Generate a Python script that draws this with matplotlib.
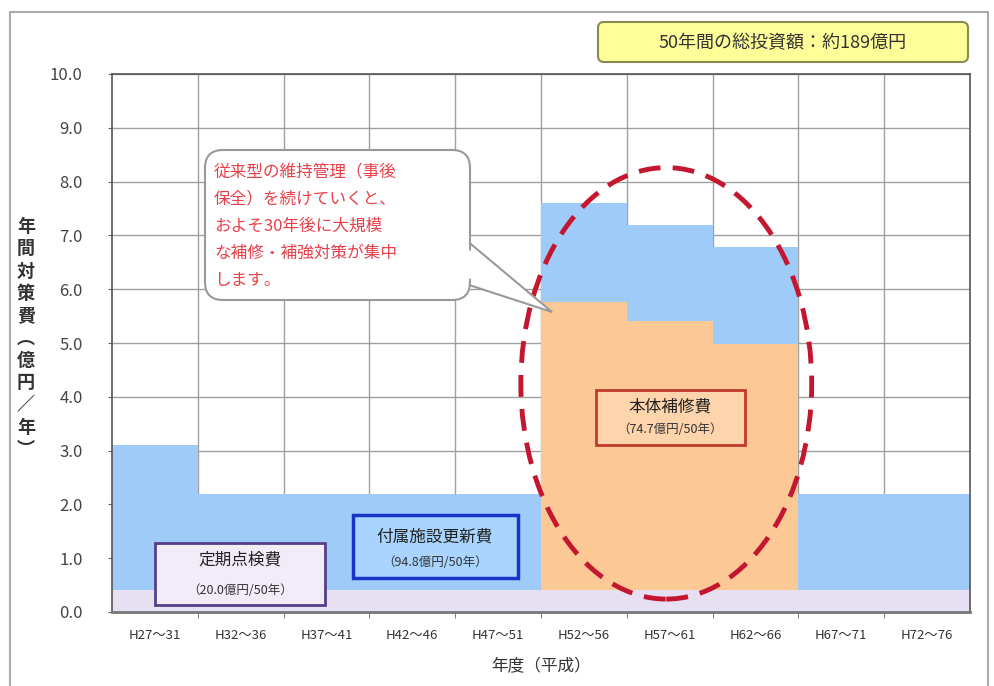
"""Annual maintenance cost chart (50-year outlook)."""

import matplotlib
matplotlib.use("Agg")
import matplotlib.pyplot as plt
from matplotlib.patches import FancyBboxPatch, Ellipse, Polygon, Rectangle
from matplotlib.transforms import IdentityTransform
import numpy as np

plt.rcParams['font.family'] = ['Noto Sans CJK JP', 'DejaVu Sans']

W, H, DPI = 995, 686, 100

categories = ["H27～31", "H32～36", "H37～41", "H42～46", "H47～51",
              "H52～56", "H57～61", "H62～66", "H67～71", "H72～76"]
# 億円/年
inspection = [0.4, 0.4, 0.4, 0.4, 0.4, 0.4, 0.4, 0.4, 0.4, 0.4]
repair = [0.0, 0.0, 0.0, 0.0, 0.0, 5.36, 5.0, 4.58, 0.0, 0.0]
facility = [2.7, 1.8, 1.8, 1.8, 1.8, 1.85, 1.8, 1.8, 1.8, 1.8]
y_ticks = [0, 1, 2, 3, 4, 5, 6, 7, 8, 9, 10]

C_INSPECT = "#e6e0f2"
C_REPAIR = "#fcc896"
C_FACILITY = "#9ecbf8"


def px(x, y):
    """Pixel position (from top-left) to figure fraction."""
    return x / W, 1 - y / H


def rounded_box(fig, x0, y0, x1, y1, face, edge, lw=1.5, r=8):
    box = FancyBboxPatch((x0, H - y1), x1 - x0, y1 - y0,
                         boxstyle="round,pad=0,rounding_size=%d" % r,
                         transform=IdentityTransform(), facecolor=face,
                         edgecolor=edge, linewidth=lw, zorder=5)
    fig.patches.append(box)


def plain_box(fig, x0, y0, x1, y1, face, edge, lw=2.0):
    box = Rectangle((x0, H - y1), x1 - x0, y1 - y0, transform=IdentityTransform(),
                    facecolor=face, edgecolor=edge, linewidth=lw, zorder=5)
    fig.patches.append(box)


fig = plt.figure(figsize=(W / DPI, H / DPI), dpi=DPI)
fig.patch.set_facecolor("white")
ax = fig.add_axes([112 / W, 1 - 612 / H, 858 / W, 538 / H])

x = np.arange(len(categories))
bottom2 = np.array(inspection) + np.array(repair)
ax.bar(x, inspection, width=1.0, color=C_INSPECT, zorder=2)
ax.bar(x, repair, width=1.0, bottom=inspection, color=C_REPAIR, zorder=2)
ax.bar(x, facility, width=1.0, bottom=bottom2, color=C_FACILITY, zorder=2)

ax.set_xlim(-0.5, len(categories) - 0.5)
ax.set_ylim(0, 10)
ax.set_yticks(y_ticks)
ax.set_yticklabels(["%.1f" % v for v in y_ticks], fontsize=12, color="#444444")
ax.set_xticks(x)
ax.set_xticklabels(categories, fontsize=9.5, color="#333333")
ax.set_xticks(np.arange(0.5, len(categories) - 0.5), minor=True)
ax.tick_params(axis="x", which="major", length=0, pad=12)
ax.tick_params(axis="x", which="minor", length=4, color="#666666")
ax.tick_params(axis="y", length=3, color="#666666", pad=18)
ax.grid(axis="y", which="major", color="#a0a0a0", linewidth=1.0, zorder=0)
ax.grid(axis="x", which="minor", color="#a0a0a0", linewidth=1.0, zorder=0)
ax.set_axisbelow(True)
for s in ax.spines.values():
    s.set_color("#555555")
    s.set_linewidth(1.2)
ax.spines["bottom"].set_linewidth(2.0)
ax.spines["bottom"].set_color("#777777")

ax.set_xlabel("年度（平成）", fontsize=12, color="#333333", labelpad=12)

# vertical y label, one character per line
fig.text(*px(26, 338), "\n".join("年間対策費︵億円／年︶"), fontsize=13,
         color="#333333", ha="center", va="center", linespacing=1.22,
         fontweight="bold")

# outer frame
fig.patches.append(Rectangle((10, -5), 978, H - 12 + 5, transform=IdentityTransform(),
                             facecolor="none", edgecolor="#aaaaaa", linewidth=1.5))

# total investment box
rounded_box(fig, 598, 22, 968, 62, "#ffff99", "#8a8a50", lw=1.5, r=6)
fig.text(*px(783, 43), "50年間の総投資額：約189億円", fontsize=13, color="#333333",
         ha="center", va="center", zorder=6)

# speech bubble
tail = Polygon([(466, H - 240), (552, H - 312), (466, H - 284)], closed=True,
               transform=IdentityTransform(), facecolor="white", edgecolor="#999999",
               linewidth=1.5, zorder=5)
fig.patches.append(tail)
rounded_box(fig, 205, 150, 470, 300, "white", "#999999", lw=1.5, r=18)
fig.patches.append(Polygon([(462, H - 244), (474, H - 254), (474, H - 278), (462, H - 280)],
                           closed=True, transform=IdentityTransform(), facecolor="white",
                           edgecolor="none", zorder=6))
bubble_lines = ["従来型の維持管理（事後", "保全）を続けていくと、", "およそ30年後に大規模",
                "な補修・補強対策が集中", "します。"]
for i, line in enumerate(bubble_lines):
    fig.text(*px(214, 172 + i * 27), line, fontsize=12, color="#e8404a",
             ha="left", va="center", zorder=7)

# dashed ellipse around the repair peak
ell = Ellipse((5.96, 4.25), 3.39, 8.02, facecolor="none", edgecolor="#c4162e",
              linewidth=3.5, linestyle=(0, (4.5, 2.5)), zorder=4, clip_on=False)
ax.add_patch(ell)

# category labels
plain_box(fig, 596, 390, 745, 445, "#fdd4ac", "#c03a2a")
fig.text(*px(670, 407), "本体補修費", fontsize=12, color="#222222", ha="center",
         va="center", zorder=6)
fig.text(*px(670, 430), "（74.7億円/50年）", fontsize=9, color="#333333", ha="center",
         va="center", zorder=6)

plain_box(fig, 353, 515, 518, 578, "#a8d4ff", "#1a33c8", lw=2.5)
fig.text(*px(435, 537), "付属施設更新費", fontsize=12, color="#222222", ha="center",
         va="center", zorder=6)
fig.text(*px(435, 562), "（94.8億円/50年）", fontsize=9, color="#333333", ha="center",
         va="center", zorder=6)

plain_box(fig, 155, 543, 325, 605, "#f2ecf8", "#553e8a", lw=2.0)
fig.text(*px(240, 560), "定期点検費", fontsize=12, color="#222222", ha="center",
         va="center", zorder=6)
fig.text(*px(240, 590), "（20.0億円/50年）", fontsize=9, color="#333333", ha="center",
         va="center", zorder=6)

fig.savefig("out.png", dpi=DPI, facecolor=fig.get_facecolor())
